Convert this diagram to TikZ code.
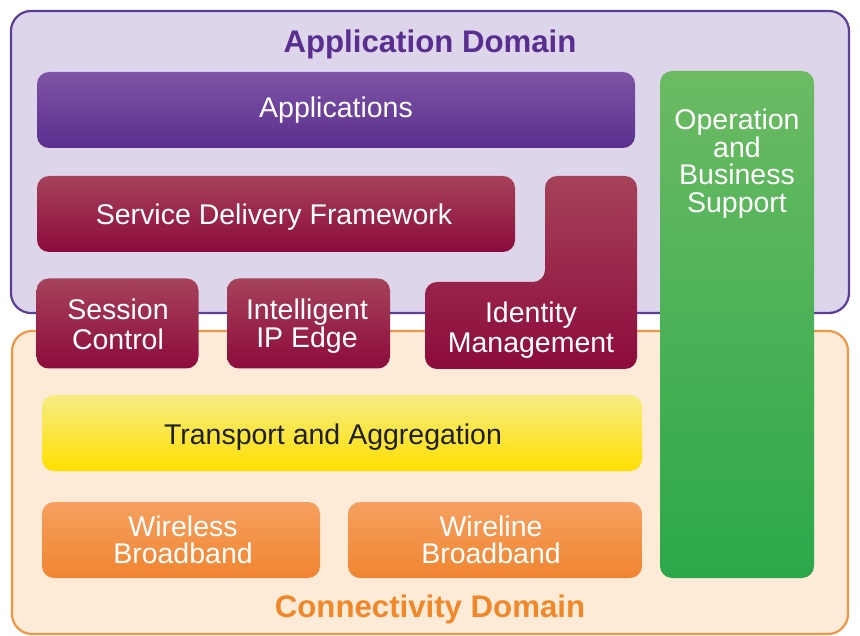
\documentclass[tikz,border=0pt]{standalone}
\usepackage{fontspec}
\setmainfont{Liberation Sans}
\definecolor{appfill}{RGB}{221,214,235}
\definecolor{appborder}{RGB}{94,61,153}
\definecolor{apptitle}{RGB}{90,45,145}
\definecolor{confill}{RGB}{253,234,215}
\definecolor{conborder}{RGB}{240,150,70}
\definecolor{contitle}{RGB}{240,136,42}
\definecolor{purpletop}{RGB}{126,84,166}
\definecolor{purplebot}{RGB}{90,47,142}
\definecolor{redtop}{RGB}{166,66,90}
\definecolor{redbot}{RGB}{140,11,60}
\definecolor{yeltop}{RGB}{246,236,130}
\definecolor{yelbot}{RGB}{255,223,0}
\definecolor{orgtop}{RGB}{245,160,96}
\definecolor{orgbot}{RGB}{240,133,48}
\definecolor{grntop}{RGB}{108,187,99}
\definecolor{grnbot}{RGB}{43,168,74}
\tikzset{
  dombox/.style={line width=2.2pt, rounded corners=20pt},
  blk/.style={rounded corners=12pt, draw=none, inner sep=0pt},
  purpleblk/.style={blk, top color=purpletop, bottom color=purplebot},
  redblk/.style={blk, top color=redtop, bottom color=redbot},
  yelblk/.style={blk, top color=yeltop, bottom color=yelbot},
  orgblk/.style={blk, top color=orgtop, bottom color=orgbot},
  grnblk/.style={blk, top color=grntop, bottom color=grnbot},
  title/.style={font=\bfseries\fontsize{31.2}{34}\selectfont, inner sep=0pt},
  lbl/.style={align=center, text=white, inner sep=0pt, font=\fontsize{28.5}{29.5}\selectfont},
  lbltight/.style={lbl, font=\fontsize{28.5}{27}\selectfont}
}
\begin{document}
\begin{tikzpicture}[x=1pt,y=-1pt]
\useasboundingbox (0,0) rectangle (860,636);
% domains
\draw[dombox, draw=conborder, fill=confill] (12,331) rectangle (848,634);
\draw[dombox, draw=appborder, fill=appfill] (11,11) rectangle (849,313);
\node[title, text=apptitle] (apptitle) at (430,44.5) {Application Domain};
\node[title, text=contitle] (contitle) at (430,609) {Connectivity Domain};
% blocks
\node[purpleblk, minimum width=598pt, minimum height=76pt] (apps) at (336,110) {};
\node[lbl] (appstext) at (336,110) {Applications};
\node[redblk, minimum width=478pt, minimum height=76pt] (sdf) at (276,214) {};
\node[lbl] (sdftext) at (274,217) {Service Delivery Framework};
\node[redblk, minimum width=162pt, minimum height=90pt] (sess) at (117.5,323.5) {};
\node[lbl] (sesstext) at (118,324.5) {Session\\Control};
\node[redblk, minimum width=163pt, minimum height=90pt] (ipedge) at (308.5,323.5) {};
\node[lbl, font=\fontsize{28.5}{28}\selectfont] (ipedgetext) at (307,326.5) {Intelligent\\IP Edge};
\shade[top color=redtop, bottom color=redbot, rounded corners=12pt]
  (545,176) -- (637,176) -- (637,369) -- (425,369) -- (425,282) -- (545,282) -- cycle;
\coordinate (idm) at (531,327);
\node[lbl] (idmtext) at (531,330) {Identity\\Management};
\node[yelblk, minimum width=600pt, minimum height=76pt] (trans) at (342,433) {};
\node[lbl, text={black!88}] (transtext) at (333,437.5) {Transport and Aggregation};
\node[orgblk, minimum width=278pt, minimum height=76pt] (wless) at (181,540) {};
\node[lbltight] (wlesstext) at (183,540) {Wireless\\Broadband};
\node[orgblk, minimum width=294pt, minimum height=76pt] (wline) at (495,540) {};
\node[lbltight] (wlinetext) at (491,540) {Wireline\\Broadband};
\node[grnblk, minimum width=154pt, minimum height=507pt] (obs) at (737,324.5) {};
\node[lbl, font=\fontsize{28.5}{27.5}\selectfont] (obstext) at (737,163.5) {Operation\\and\\Business\\Support};
\end{tikzpicture}
\end{document}
